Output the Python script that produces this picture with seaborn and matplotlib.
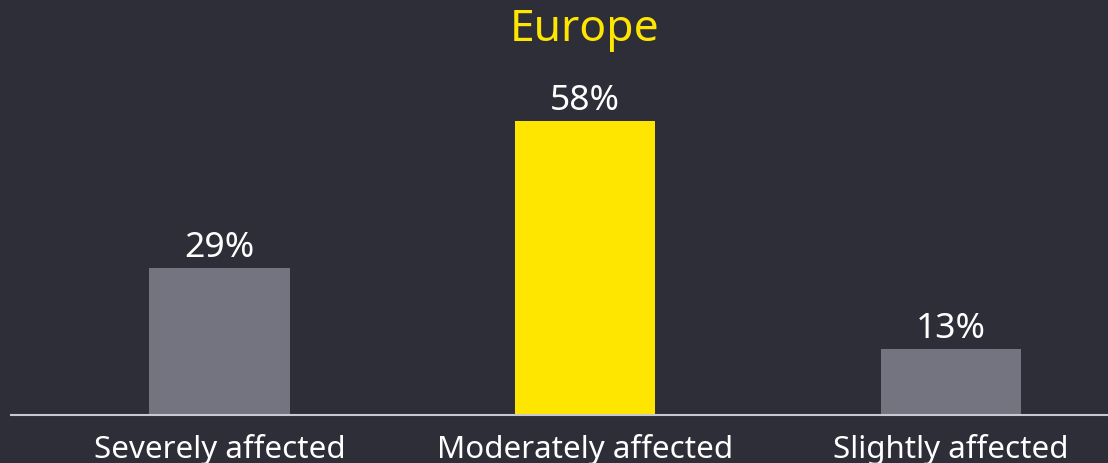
import numpy as np
import pandas as pd
import seaborn as sns
import matplotlib.pyplot as plt

# data
categories = ["Severely affected", "Moderately affected", "Slightly affected"]
values = [29, 58, 13]
title = "Europe"

BG = "#2e2e38"
GREY = "#747480"
YELLOW = "#ffe600"

sns.set_style("white")
plt.rcParams['font.family'] = ['Noto Sans', 'DejaVu Sans']

fig = plt.figure(figsize=(11.08, 4.64), dpi=100, facecolor=BG)
ax = fig.add_axes([11 / 1108, 48 / 464, 1 - 11 / 1108, 1 - 48 / 464])
ax.set_facecolor(BG)

df = pd.DataFrame({"category": categories, "value": values})
palette = [YELLOW if v == max(values) else GREY for v in values]
sns.barplot(data=df, x="category", y="value", hue="category", palette=palette,
            width=0.384, legend=False, ax=ax, saturation=1, linewidth=0)

ax.set_xlim(-0.57, 2.43)
ax.set_ylim(0, 82.1)

for i, v in enumerate(values):
    ax.annotate(f"{v}%", (i, v), xytext=(0, 3), textcoords="offset points",
                ha="center", va="bottom", color="white", fontsize=25.5)

for s in ["top", "right", "left"]:
    ax.spines[s].set_visible(False)
ax.spines["bottom"].set_color("#c8c8d0")
ax.spines["bottom"].set_linewidth(1.5)
ax.set_yticks([])
ax.set_xlabel("")
ax.set_ylabel("")
ax.tick_params(axis="x", length=0, pad=13, labelsize=22.5, labelcolor="white")

fig.text(585 / 1108, 1 - 30 / 464, title, ha="center", va="center",
         color=YELLOW, fontsize=32, fontweight="semibold")

fig.savefig("out.png", dpi=100, facecolor=BG)
